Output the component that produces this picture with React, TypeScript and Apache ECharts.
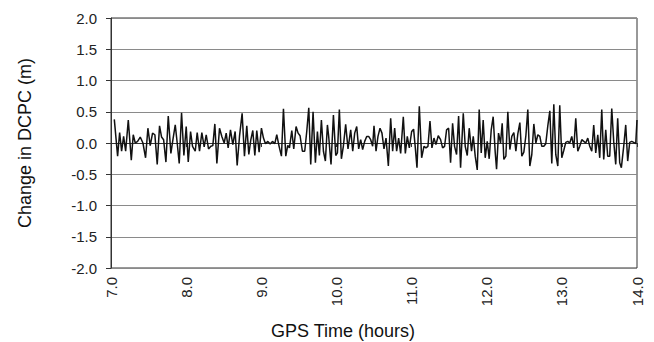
import React, { useEffect, useRef } from "react";
import * as echarts from "echarts";

const FONT = '"Liberation Sans", Arial, sans-serif';

const xTicks = [7, 8, 9, 10, 11, 12, 13, 14];
const yTicks = [-2, -1.5, -1, -0.5, 0, 0.5, 1, 1.5, 2];

// GPS time (hours)
const gpsTime = [
  7.044, 7.088, 7.115, 7.141, 7.168, 7.195, 7.23, 7.27, 7.296, 7.323,
  7.354, 7.389, 7.425, 7.46, 7.491, 7.522, 7.553, 7.584, 7.615, 7.646,
  7.673, 7.7, 7.731, 7.762, 7.797, 7.824, 7.855, 7.881, 7.908, 7.939,
  7.97, 8.001, 8.028, 8.059, 8.085, 8.121, 8.147, 8.178, 8.209, 8.24,
  8.267, 8.298, 8.329, 8.355, 8.382, 8.409, 8.444, 8.475, 8.506, 8.533,
  8.559, 8.59, 8.621, 8.652, 8.679, 8.71, 8.745, 8.776, 8.807, 8.834,
  8.861, 8.887, 8.914, 8.94, 8.971, 9.002, 9.029, 9.056, 9.087, 9.118,
  9.149, 9.18, 9.206, 9.237, 9.268, 9.295, 9.326, 9.352, 9.375, 9.406,
  9.432, 9.463, 9.49, 9.516, 9.547, 9.578, 9.605, 9.632, 9.658, 9.689,
  9.72, 9.747, 9.773, 9.8, 9.827, 9.853, 9.88, 9.897, 9.928, 9.96,
  9.991, 10.013, 10.039, 10.066, 10.092, 10.123, 10.154, 10.19, 10.217, 10.243,
  10.27, 10.296, 10.323, 10.349, 10.376, 10.403, 10.429, 10.456, 10.482,
  10.5, 10.527, 10.553, 10.58, 10.606, 10.633, 10.66, 10.691, 10.722, 10.748,
  10.775, 10.801, 10.828, 10.855, 10.89, 10.917, 10.943, 10.97, 11.001, 11.027,
  11.05, 11.072, 11.103, 11.134, 11.165, 11.191, 11.218, 11.245, 11.271, 11.298,
  11.324, 11.355, 11.386, 11.413, 11.439, 11.466, 11.493, 11.519, 11.546, 11.572,
  11.599, 11.626, 11.652, 11.688, 11.714, 11.741, 11.767, 11.798, 11.821, 11.847,
  11.874, 11.9, 11.927, 11.953, 11.98, 12.007, 12.033, 12.06, 12.086, 12.113,
  12.131, 12.157, 12.184, 12.206, 12.228, 12.255, 12.281, 12.308, 12.334, 12.361,
  12.388, 12.414, 12.441, 12.467, 12.494, 12.521, 12.547, 12.574, 12.6, 12.627,
  12.654, 12.68, 12.707, 12.733, 12.76, 12.786, 12.813, 12.84, 12.866, 12.893,
  12.919, 12.946, 12.972, 12.999, 13.026, 13.052, 13.079, 13.105, 13.132, 13.159,
  13.185, 13.212, 13.238, 13.265, 13.292, 13.318, 13.345, 13.371, 13.398, 13.424,
  13.451, 13.478, 13.504, 13.531, 13.557, 13.584, 13.61, 13.637, 13.664, 13.69,
  13.717, 13.743, 13.77, 13.792, 13.823, 13.85, 13.876, 13.903, 13.93, 13.956,
  13.983, 14.0,
];

// Change in DCPC (m)
const dcpcChange = [
  0.379, -0.211, 0.168, -0.132, 0.105, -0.132, 0.368, -0.274, 0.132, 0.0,
  0.026, 0.095, 0.0, -0.237, 0.237, -0.042, 0.158, 0.132, -0.342, 0.274,
  0.095, 0.053, -0.305, 0.432, -0.168, 0.053, 0.289, 0.0, -0.326, 0.484,
  -0.2, 0.263, -0.305, 0.184, -0.053, -0.132, 0.168, -0.132, 0.168, -0.063,
  0.132, -0.095, -0.053, -0.042, 0.305, -0.326, 0.237, 0.105, 0.0, 0.158,
  -0.079, 0.211, -0.026, 0.184, -0.358, 0.105, 0.474, -0.211, 0.274, -0.184,
  0.053, 0.2, -0.2, 0.2, -0.147, 0.237, 0.079, -0.011, 0.026, -0.016,
  0.026, -0.011, 0.132, -0.053, -0.211, 0.547, -0.211, -0.037, -0.079, 0.2,
  -0.095, 0.263, 0.158, 0.116, -0.132, -0.132, 0.184, 0.563, -0.342, 0.5,
  -0.316, 0.184, -0.2, 0.368, -0.132, -0.289, 0.289, 0.105, -0.342, 0.447,
  -0.2, -0.158, 0.537, -0.253, -0.053, 0.3, -0.095, 0.211, -0.132, 0.158,
  0.263, -0.095, 0.053, -0.105, 0.026, 0.105, 0.105, 0.053, -0.053,
  0.274, -0.132, 0.105, 0.237, 0.158, -0.095, 0.079, -0.368, 0.395, -0.132,
  0.237, -0.132, 0.079, -0.168, 0.421, -0.168, 0.105, -0.079, 0.184, 0.221,
  -0.079, -0.395, 0.589, -0.237, -0.053, -0.079, -0.053, 0.353, -0.079, 0.079,
  -0.026, 0.116, 0.053, -0.079, -0.053, 0.211, 0.237, -0.316, 0.316, -0.053,
  -0.184, 0.432, -0.395, 0.474, -0.053, -0.2, 0.237, -0.132, 0.105, -0.211,
  -0.432, 0.537, -0.158, 0.368, -0.237, 0.026, -0.253, 0.211, 0.421, -0.147,
  -0.421, 0.158, 0.0, 0.316, -0.263, -0.211, 0.5, -0.105, 0.105, 0.168,
  -0.132, 0.147, 0.326, -0.211, -0.147, 0.116, 0.537, -0.368, -0.184, 0.305,
  0.0, 0.132, 0.105, -0.053, -0.053, -0.011, 0.274, 0.516, -0.326, 0.621,
  -0.184, -0.368, 0.605, -0.237, -0.116, 0.011, 0.026, 0.0, 0.105, -0.079,
  0.395, -0.132, -0.053, 0.053, 0.026, 0.0, 0.079, -0.053, -0.132, 0.289,
  -0.158, 0.132, -0.237, 0.537, -0.263, 0.211, -0.211, -0.211, 0.553, 0.026,
  -0.342, 0.395, -0.316, -0.395, -0.053, 0.289, -0.289, 0.011, 0.026, 0.011,
  -0.011, 0.368,
];

export default function App() {
  const ref = useRef<HTMLDivElement>(null);

  useEffect(() => {
    if (!ref.current) return;
    const chart = echarts.init(ref.current, null, { renderer: "svg" });
    const n = Math.min(gpsTime.length, dcpcChange.length);
    const data: [number, number][] = [];
    for (let i = 0; i < n; i++) data.push([gpsTime[i], dcpcChange[i]]);

    chart.setOption({
      animation: false,
      backgroundColor: "#ffffff",
      grid: {
        left: 111,
        right: 17,
        top: 18,
        bottom: 74,
        show: true,
        borderColor: "#333333",
        borderWidth: 1,
        containLabel: false,
        outerBoundsMode: "none",
      },
      xAxis: {
        type: "value",
        min: xTicks[0],
        max: xTicks[xTicks.length - 1],
        interval: 1,
        name: "GPS Time (hours)",
        nameLocation: "middle",
        nameGap: 54,
        nameTextStyle: {
          fontFamily: FONT,
          fontSize: 18,
          color: "#111111",
          padding: [0, 62, 0, 0],
        },
        axisLine: { show: true, lineStyle: { color: "#333333", width: 1 } },
        axisTick: { show: true, inside: false, length: 4, lineStyle: { color: "#333333" } },
        axisLabel: {
          rotate: 90,
          margin: 9,
          fontFamily: FONT,
          fontSize: 15,
          color: "#222222",
          formatter: (v: number) => v.toFixed(1),
        },
        splitLine: { show: false },
      },
      yAxis: {
        type: "value",
        min: yTicks[0],
        max: yTicks[yTicks.length - 1],
        interval: 0.5,
        name: "Change in DCPC (m)",
        nameLocation: "middle",
        nameGap: 77,
        nameTextStyle: {
          fontFamily: FONT,
          fontSize: 18,
          color: "#111111",
        },
        axisLine: { show: true, lineStyle: { color: "#333333", width: 1 } },
        axisTick: { show: true, inside: false, length: 5, lineStyle: { color: "#333333" } },
        axisLabel: {
          margin: 14,
          fontFamily: FONT,
          fontSize: 15,
          color: "#222222",
          formatter: (v: number) => v.toFixed(1),
        },
        splitLine: { show: true, lineStyle: { color: "#8a8a8a", width: 1 } },
      },
      series: [
        {
          type: "line",
          data,
          showSymbol: false,
          symbol: "none",
          lineStyle: { color: "#111111", width: 1.5 },
          z: 5,
        },
      ],
    });

    return () => chart.dispose();
  }, []);

  return (
    <div
      ref={ref}
      style={{ position: "fixed", left: 0, top: 0, width: 654, height: 342 }}
    />
  );
}
